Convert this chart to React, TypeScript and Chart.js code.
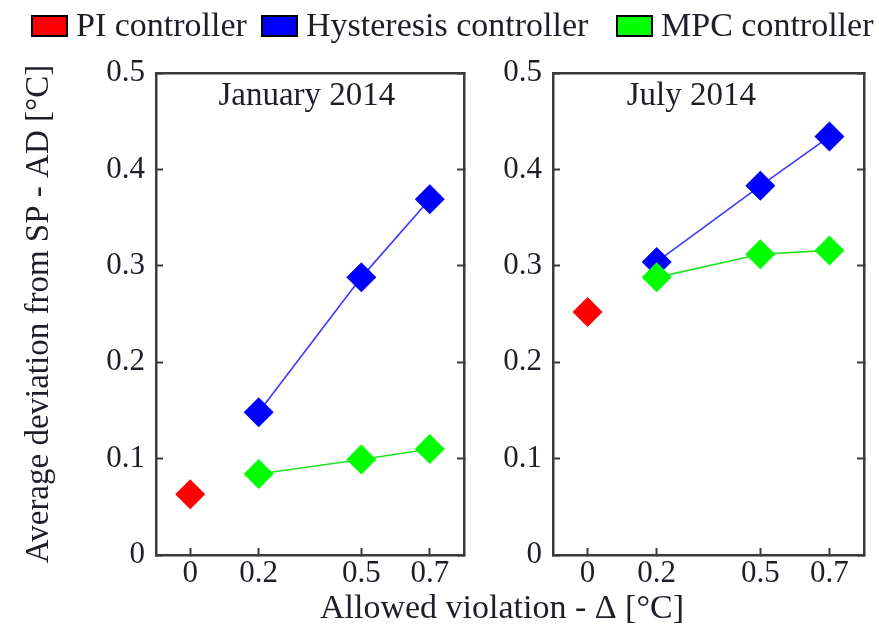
import React, { useEffect, useRef } from 'react';
import { Chart, registerables } from 'chart.js';

Chart.register(...registerables);

// ---------- data ----------
const seriesNames = ['PI controller', 'Hysteresis controller', 'MPC controller'];
const markerColors = ['#ff0000', '#0000ff', '#00ff00'];
const lineColors = ['#ff0000', '#3a3aff', '#22e022'];

const piX = [0];
const ctrlX = [0.2, 0.5, 0.7];

const janPI = [0.063];
const janHyst = [0.148, 0.288, 0.369];
const janMPC = [0.084, 0.099, 0.110];

const julPI = [0.252];
const julHyst = [0.304, 0.383, 0.434];
const julMPC = [0.288, 0.312, 0.316];

const xTicks = [0, 0.2, 0.5, 0.7];
const yTicks = [0, 0.1, 0.2, 0.3, 0.4, 0.5];
const xRange = [-0.1, 0.8];
const yRange = [0, 0.5];

const panelTitles = ['January 2014', 'July 2014'];
const yTitle = 'Average deviation from SP - AD [°C]';
const xTitle = 'Allowed violation - Δ [°C]';

// ---------- style ----------
const FONT = '"Liberation Serif", "Times New Roman", serif';
const TEXT = '#1e1e28';
const FRAME = '#3a3a3a';
const W = 879;
const H = 629;

type Pt = { x: number; y: number };
const pts = (xs: number[], ys: number[]): Pt[] => xs.map((x, i) => ({ x, y: ys[i] }));

function fmt(v: number): string {
  return String(Number(v.toFixed(2)));
}

function makeConfig(panel: number, pi: number[], hyst: number[], mpc: number[]): any {
  const isLeft = panel === 0;
  const series = [
    { data: pts(piX, pi), showLine: false, order: 2 },
    { data: pts(ctrlX, hyst), showLine: true, order: 1 },
    { data: pts(ctrlX, mpc), showLine: true, order: 0 },
  ];
  const datasets = series.map((s, i) => ({
    label: seriesNames[i],
    data: s.data,
    showLine: s.showLine,
    order: s.order,
    borderColor: lineColors[i],
    borderWidth: 1.6,
    backgroundColor: markerColors[i],
    pointStyle: 'rectRot',
    pointRadius: 15,
    pointBorderWidth: 0,
    pointBackgroundColor: markerColors[i],
    pointBorderColor: markerColors[i],
  }));

  const panelTitlePlugin = {
    id: 'panelTitle' + panel,
    afterDraw(chart: any) {
      const { ctx, chartArea } = chart;
      ctx.save();
      ctx.font = `33px ${FONT}`;
      ctx.fillStyle = TEXT;
      ctx.textAlign = 'center';
      ctx.textBaseline = 'alphabetic';
      const frac = isLeft ? 0.49 : 0.445;
      ctx.fillText(panelTitles[panel], chartArea.left + frac * chartArea.width, chartArea.top + 32);
      ctx.restore();
    },
  };

  const overlayPlugin = {
    id: 'overlayText',
    afterDraw(chart: any) {
      const { ctx } = chart;
      ctx.save();
      // legend
      const boxX = [32, 262, 617];
      ctx.font = `34px ${FONT}`;
      ctx.textBaseline = 'alphabetic';
      ctx.textAlign = 'left';
      for (let i = 0; i < seriesNames.length; i++) {
        ctx.fillStyle = markerColors[i];
        ctx.fillRect(boxX[i], 16, 35, 20);
        ctx.lineWidth = 2;
        ctx.strokeStyle = '#000';
        ctx.strokeRect(boxX[i], 16, 35, 20);
        ctx.fillStyle = TEXT;
        ctx.fillText(seriesNames[i], boxX[i] + 44, 36);
      }
      // shared x title
      ctx.textAlign = 'center';
      ctx.font = `34px ${FONT}`;
      ctx.fillText(xTitle, 502, 618);
      ctx.restore();
    },
  };

  const tickFont = { family: FONT, size: 31 };

  return {
    type: 'scatter',
    data: { datasets },
    options: {
      animation: false,
      responsive: false,
      maintainAspectRatio: false,
      events: [],
      layout: {
        autoPadding: false,
        padding: isLeft
          ? { left: 0, right: W - 464, top: 73, bottom: 0 }
          : { left: 453, right: W - 864, top: 73, bottom: 0 },
      },
      plugins: {
        legend: { display: false },
        tooltip: { enabled: false },
        title: { display: false },
      },
      scales: {
        x: {
          type: 'linear',
          position: 'bottom',
          min: xRange[0],
          max: xRange[1],
          afterBuildTicks: (s: any) => {
            s.ticks = xTicks.map((v) => ({ value: v }));
          },
          afterFit: (s: any) => {
            s.height = H - 555;
          },
          ticks: {
            font: tickFont,
            color: TEXT,
            padding: 7,
            maxRotation: 0,
            autoSkip: false,
            callback: (v: number) => fmt(v),
          },
          grid: {
            drawOnChartArea: false,
            drawTicks: true,
            tickLength: -7,
            tickColor: FRAME,
            tickWidth: 2,
          },
          border: { display: true, color: FRAME, width: 2.5 },
        },
        xTop: {
          type: 'linear',
          position: 'top',
          min: xRange[0],
          max: xRange[1],
          afterFit: (s: any) => {
            s.height = 0;
          },
          ticks: { display: false },
          grid: { drawOnChartArea: false, drawTicks: false },
          border: { display: true, color: FRAME, width: 2.5 },
        },
        y: {
          type: 'linear',
          position: 'left',
          min: yRange[0],
          max: yRange[1],
          afterBuildTicks: (s: any) => {
            s.ticks = yTicks.map((v) => ({ value: v }));
          },
          afterFit: (s: any) => {
            s.width = isLeft ? 156 : 100;
          },
          ticks: {
            font: tickFont,
            color: TEXT,
            padding: 18,
            callback: (v: number) => fmt(v),
          },
          grid: {
            drawOnChartArea: false,
            drawTicks: true,
            tickLength: -7,
            tickColor: FRAME,
            tickWidth: 2,
          },
          border: { display: true, color: FRAME, width: 2.5 },
          title: isLeft
            ? {
                display: true,
                text: yTitle,
                color: TEXT,
                font: { family: FONT, size: 33 },
                padding: { top: 20, bottom: 0 },
              }
            : { display: false },
        },
        yRight: {
          type: 'linear',
          position: 'right',
          min: yRange[0],
          max: yRange[1],
          afterBuildTicks: (s: any) => {
            s.ticks = yTicks.map((v) => ({ value: v }));
          },
          afterFit: (s: any) => {
            s.width = 0;
          },
          ticks: { display: false },
          grid: {
            drawOnChartArea: false,
            drawTicks: true,
            tickLength: -7,
            tickColor: FRAME,
            tickWidth: 2,
          },
          border: { display: true, color: FRAME, width: 2.5 },
        },
      },
    },
    plugins: isLeft ? [panelTitlePlugin, overlayPlugin] : [panelTitlePlugin],
  };
}

export default function App() {
  const leftRef = useRef<HTMLCanvasElement | null>(null);
  const rightRef = useRef<HTMLCanvasElement | null>(null);

  useEffect(() => {
    const charts: Chart[] = [];
    if (leftRef.current) {
      charts.push(new Chart(leftRef.current, makeConfig(0, janPI, janHyst, janMPC)));
    }
    if (rightRef.current) {
      charts.push(new Chart(rightRef.current, makeConfig(1, julPI, julHyst, julMPC)));
    }
    return () => {
      charts.forEach((c) => c.destroy());
    };
  }, []);

  const canvasStyle: React.CSSProperties = {
    position: 'absolute',
    left: 0,
    top: 0,
    width: W + 'px',
    height: H + 'px',
  };

  return (
    <div
      style={{
        position: 'absolute',
        left: 0,
        top: 0,
        width: W + 'px',
        height: H + 'px',
        background: '#ffffff',
        overflow: 'hidden',
      }}
    >
      <canvas ref={leftRef} width={W} height={H} style={canvasStyle} />
      <canvas ref={rightRef} width={W} height={H} style={canvasStyle} />
    </div>
  );
}
